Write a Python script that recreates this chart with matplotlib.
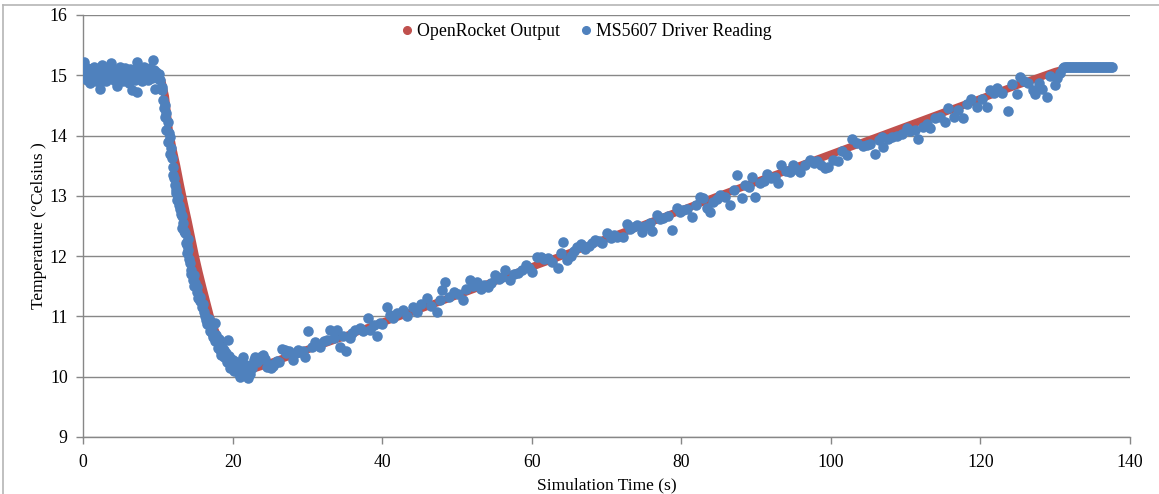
import matplotlib
matplotlib.use("Agg")
import matplotlib.pyplot as plt
from matplotlib.lines import Line2D

# ---------------- data ----------------
# OpenRocket simulated temperature
rocket_time = [0, 2, 4, 6, 8, 9, 9.5, 10, 10.5, 11, 11.5, 12, 12.5, 13, 13.5, 14, 14.5,
               15, 15.5, 16, 16.5, 17, 17.5, 18, 18.5, 19, 19.5, 20, 20.5, 21, 21.5,
               22, 22.5, 23, 24, 26, 28, 30, 35, 40, 45, 50, 55, 60, 65, 70, 75, 80,
               85, 90, 95, 100, 105, 110, 115, 120, 125, 130, 130.6]
rocket_temp = [15.0, 15.0, 15.0, 15.0, 15.0, 15.0, 14.99, 14.98, 14.92, 14.65, 14.1,
               13.78, 13.5, 13.18, 12.88, 12.6, 12.3, 12.0, 11.73, 11.48, 11.24, 11.0,
               10.82, 10.66, 10.53, 10.42, 10.33, 10.26, 10.2, 10.16, 10.13, 10.12,
               10.12, 10.14, 10.18, 10.27, 10.36, 10.45, 10.67, 10.9, 11.12, 11.35,
               11.58, 11.82, 12.05, 12.29, 12.52, 12.76, 13.0, 13.23, 13.46, 13.69,
               13.92, 14.15, 14.38, 14.61, 14.84, 15.06, 15.08]

# MS5607 driver readings: on the pad
pad_time = [0.0, 0.1, 0.2, 0.3, 0.5, 0.6, 0.8, 0.9, 1.1, 1.2, 1.4, 1.5, 1.7, 1.8, 2.0,
            2.1, 2.3, 2.4, 2.5, 2.7, 2.8, 3.0, 3.1, 3.3, 3.4, 3.6, 3.8, 3.9, 4.1, 4.2,
            4.4, 4.5, 4.7, 4.8, 5.0, 5.2, 5.3, 5.5, 5.6, 5.8, 6.0, 6.1, 6.3, 6.5, 6.6,
            6.8, 7.0, 7.2, 7.2, 7.4, 7.5, 7.7, 7.9, 8.0, 8.2, 8.4, 8.5, 8.7, 8.9, 9.0,
            9.2, 9.4, 9.5, 9.6, 9.8, 9.9, 10.1, 10.3, 10.5]
pad_temp = [15.02, 15.22, 14.97, 15.08, 14.92, 15.12, 15.0, 14.88, 15.1, 15.04, 14.95,
            15.13, 14.9, 15.06, 14.98, 15.1, 14.77, 15.03, 15.17, 14.93, 15.08, 15.0,
            14.9, 15.12, 15.05, 14.96, 15.2, 15.02, 14.93, 15.1, 15.0, 14.82, 15.08,
            14.95, 15.13, 15.02, 14.9, 15.07, 15.12, 14.97, 15.04, 14.88, 15.1, 14.76,
            15.0, 15.08, 14.93, 15.22, 14.72, 15.05, 14.98, 15.1, 14.9, 15.03, 15.14,
            14.95, 15.06, 14.92, 15.12, 15.0, 14.96, 15.25, 15.08, 14.78, 15.05, 14.95,
            15.02, 14.92, 14.8]

# MS5607 driver readings: descent to the minimum
drop_time = [10.6, 10.7, 10.8, 10.9, 11.0, 11.1, 11.1, 11.3, 11.4, 11.5, 11.6, 11.7,
             11.8, 11.9, 12.0, 12.1, 12.2, 12.3, 12.4, 12.5, 12.6, 12.7, 12.9, 13.0,
             13.1, 13.2, 13.3, 13.4, 13.5, 13.6, 13.8, 13.9, 13.9, 14.0, 14.1, 14.2,
             14.3, 14.4, 14.5, 14.7, 14.8, 14.9, 15.0, 15.2, 15.3, 15.4, 15.6, 15.7,
             15.9, 16.0, 16.2, 16.3, 16.5, 16.6, 16.8, 16.9, 17.0, 17.2, 17.3, 17.4,
             17.6, 17.7, 17.8, 18.0, 18.1, 18.2, 18.3, 18.5, 18.6, 18.8, 18.9, 19.1,
             19.2, 19.4, 19.5, 19.6, 19.8, 19.9, 20.1, 20.2, 20.3, 20.5, 20.6, 20.8,
             20.9, 21.0, 21.2, 21.3, 21.4, 21.6, 21.8, 21.9, 22.1, 22.3, 22.4, 22.6,
             22.8, 23.0, 23.2, 23.5, 23.7, 24.1, 24.4, 24.6, 25.0, 25.2, 25.4, 25.7,
             25.9, 26.2, 26.6, 27.0, 27.2, 27.6, 28.1, 28.5, 28.8, 29.0, 29.4, 29.7]
drop_temp = [14.75, 14.59, 14.45, 14.5, 14.3, 14.38, 14.1, 14.22, 13.89, 14.05, 13.97,
             13.7, 13.8, 13.62, 13.48, 13.35, 13.3, 13.18, 13.1, 13.05, 12.93, 12.98,
             12.85, 12.78, 12.7, 12.66, 12.47, 12.55, 12.42, 12.38, 12.22, 12.18, 12.05,
             12.28, 12.1, 11.95, 11.88, 11.7, 11.77, 11.6, 11.68, 11.5, 11.55, 11.49,
             11.4, 11.3, 11.33, 11.25, 11.16, 11.2, 11.08, 11.0, 10.94, 10.88, 10.95,
             10.85, 10.75, 10.82, 10.72, 10.66, 10.89, 10.6, 10.7, 10.48, 10.56, 10.62,
             10.44, 10.36, 10.5, 10.33, 10.45, 10.4, 10.25, 10.61, 10.35, 10.14, 10.3,
             10.18, 10.28, 10.1, 10.2, 10.19, 10.25, 10.12, 10.05, 10.0, 10.22, 10.15,
             10.33, 10.08, 10.2, 10.11, 9.98, 10.05, 10.2, 10.15, 10.28, 10.32, 10.25,
             10.27, 10.33, 10.36, 10.3, 10.16, 10.2, 10.15, 10.18, 10.22, 10.26, 10.25,
             10.46, 10.45, 10.39, 10.42, 10.28, 10.4, 10.44, 10.41, 10.42, 10.32]

# MS5607 driver readings: slow warming under the parachute
rise_time = [30.1, 30.6, 31.0, 31.4, 31.7, 32.2, 32.6, 33.0, 33.5, 33.9, 34.4, 34.8,
             35.2, 35.7, 36.0, 36.4, 37.0, 37.5, 38.1, 38.4, 38.9, 39.3, 39.7, 40.0,
             40.6, 41.0, 41.5, 42.0, 42.8, 43.3, 44.1, 44.6, 45.2, 46.0, 46.5, 47.3,
             47.8, 48.0, 48.4, 49.0, 49.6, 50.2, 50.8, 51.2, 51.7, 52.2, 52.7, 53.2,
             53.6, 54.2, 54.6, 55.1, 55.6, 56.0, 56.4, 57.1, 57.6, 58.1, 58.7, 59.2,
             59.6, 60.0, 60.7, 61.2, 61.7, 62.2, 62.7, 63.5, 63.9, 64.2, 64.7, 65.2,
             65.6, 66.1, 66.6, 67.1, 67.6, 68.0, 68.5, 69.0, 69.4, 70.1, 70.6, 71.0,
             71.4, 72.2, 72.7, 73.2, 73.6, 74.1, 74.7, 75.2, 75.8, 76.1, 76.7, 77.2,
             77.6, 78.2, 78.8, 79.4, 79.8, 80.2, 80.8, 81.4, 82.0, 82.5, 82.9, 83.4,
             83.8, 84.3, 84.8, 85.2, 85.8, 86.5, 87.0, 87.4, 88.1, 88.5, 89.0, 89.4,
             89.8, 90.5, 91.0, 91.4, 92.0, 92.5, 92.9, 93.4, 94.0, 94.5, 94.9, 95.4,
             95.9, 96.5, 97.2, 97.7, 98.2, 98.7, 99.2, 99.6, 100.3, 100.9, 101.5, 102.2,
             102.8, 103.5, 104.3, 104.8, 105.2, 105.9, 106.4, 106.8, 107.0, 107.6,
             108.2, 108.8, 109.5, 110.2, 110.6, 111.2, 111.7, 112.3, 112.8, 113.3,
             113.9, 114.6, 115.3, 115.7, 116.4, 117.0, 117.7, 118.2, 118.8, 119.5,
             120.2, 120.9, 121.3, 121.8, 122.2, 122.9, 123.7, 124.2, 124.9, 125.3,
             125.8, 126.4, 127.0, 127.3, 127.8, 128.2, 128.9, 129.3, 130.0, 130.3,
             130.6, 131.0]
rise_temp = [10.75, 10.5, 10.58, 10.52, 10.5, 10.6, 10.61, 10.77, 10.64, 10.77, 10.49,
             10.68, 10.42, 10.64, 10.72, 10.77, 10.81, 10.75, 10.97, 10.77, 10.85,
             10.68, 10.89, 10.88, 11.16, 11.02, 10.98, 11.05, 11.1, 11.0, 11.16, 11.08,
             11.2, 11.3, 11.18, 11.07, 11.28, 11.44, 11.57, 11.32, 11.4, 11.38, 11.27,
             11.45, 11.6, 11.5, 11.57, 11.45, 11.52, 11.49, 11.55, 11.69, 11.62, 11.66,
             11.77, 11.6, 11.7, 11.72, 11.77, 11.85, 11.8, 11.74, 11.99, 11.98, 11.96,
             11.97, 11.9, 11.8, 12.05, 12.24, 11.94, 12.0, 12.08, 12.15, 12.2, 12.12,
             12.16, 12.22, 12.27, 12.25, 12.22, 12.39, 12.3, 12.35, 12.32, 12.32, 12.53,
             12.45, 12.48, 12.52, 12.4, 12.5, 12.55, 12.42, 12.68, 12.62, 12.63, 12.66,
             12.43, 12.8, 12.74, 12.77, 12.78, 12.65, 12.85, 12.98, 12.96, 12.8, 12.74,
             12.9, 12.95, 13.01, 12.98, 12.85, 13.1, 13.35, 12.96, 13.18, 13.15, 13.32,
             12.98, 13.21, 13.25, 13.37, 13.3, 13.32, 13.21, 13.51, 13.42, 13.4, 13.51,
             13.45, 13.4, 13.52, 13.6, 13.55, 13.58, 13.52, 13.46, 13.48, 13.6, 13.57,
             13.75, 13.67, 13.94, 13.87, 13.83, 13.85, 13.86, 13.69, 13.92, 13.98,
             13.81, 13.95, 13.98, 14.0, 14.03, 14.12, 14.08, 14.09, 13.94, 14.15, 14.2,
             14.12, 14.29, 14.3, 14.23, 14.45, 14.31, 14.42, 14.29, 14.53, 14.6, 14.47,
             14.6, 14.47, 14.76, 14.7, 14.79, 14.7, 14.4, 14.85, 14.69, 14.97, 14.9,
             14.87, 14.76, 14.69, 14.88, 14.77, 14.64, 14.99, 14.84, 14.95, 15.04, 15.12]

# MS5607 driver readings: landed
landed_time = [131.2, 131.4, 131.6, 131.8, 132.0, 132.2, 132.4, 132.6, 132.8, 133.0,
               133.2, 133.4, 133.6, 133.8, 134.0, 134.2, 134.4, 134.6, 134.8, 135.0,
               135.2, 135.4, 135.6, 135.8, 136.0, 136.2, 136.4, 136.6, 136.8, 137.0,
               137.2, 137.4, 137.6]
landed_temp = [15.14] * len(landed_time)

x_ticks = [0, 20, 40, 60, 80, 100, 120, 140]
y_ticks = [9, 10, 11, 12, 13, 14, 15, 16]

# ---------------- plot ----------------
plt.rcParams['font.family'] = ['Liberation Serif', 'DejaVu Serif']

W, H = 1159, 494
fig = plt.figure(figsize=(W / 100, H / 100), dpi=100)
ax = fig.add_axes([83 / W, 1 - 437 / H, (1130 - 83) / W, (437 - 15) / H])

red = '#C0504D'
blue = '#4F81BD'
grid = '#878787'

ax.plot(rocket_time, rocket_temp, '-', color=red, lw=5.5, solid_capstyle='round', zorder=2)

blue_time = pad_time + drop_time + rise_time + landed_time
blue_temp = pad_temp + drop_temp + rise_temp + landed_temp
ax.plot(blue_time, blue_temp, 'o', ms=7.6, color=blue, mec=blue, mew=0, zorder=3)

ax.set_xlim(0, 140)
ax.set_ylim(9, 16)
ax.set_xticks(x_ticks)
ax.set_yticks(y_ticks)
ax.tick_params(axis='both', direction='out', length=5, width=1, color=grid,
               labelsize=12.8, labelcolor='black')
ax.tick_params(axis='x', pad=7)
ax.tick_params(axis='y', pad=6)
ax.grid(axis='y', color=grid, lw=1)
ax.set_axisbelow(True)
for s in ['top', 'right']:
    ax.spines[s].set_visible(False)
for s in ['left', 'bottom']:
    ax.spines[s].set_color(grid)
    ax.spines[s].set_linewidth(1)

ax.set_xlabel('Simulation Time (s)', fontsize=12.6)
ax.xaxis.set_label_coords(0.5, -0.096)
ax.set_ylabel('Temperature (°Celsius )', fontsize=12.6)
ax.yaxis.set_label_coords(-0.034, 0.5)

handles = [Line2D([], [], marker='o', ls='none', color=red, ms=5.5),
           Line2D([], [], marker='o', ls='none', color=blue, ms=5.5)]
ax.legend(handles, ['OpenRocket Output', 'MS5607 Driver Reading'], loc='upper center',
          bbox_to_anchor=(0.481, 1.0), ncol=2, frameon=False, fontsize=12.8,
          handletextpad=0.25, columnspacing=1.2, handlelength=0.6, borderaxespad=0.05)

# outer chart border
fig.add_artist(Line2D([3 / W, 3 / W], [0, 1 - 5 / H], transform=fig.transFigure,
                      color='#B5B5B5', lw=1.2))
fig.add_artist(Line2D([3 / W, 1], [1 - 5 / H, 1 - 5 / H], transform=fig.transFigure,
                      color='#B5B5B5', lw=1.2))

fig.savefig('out.png', dpi=100)
